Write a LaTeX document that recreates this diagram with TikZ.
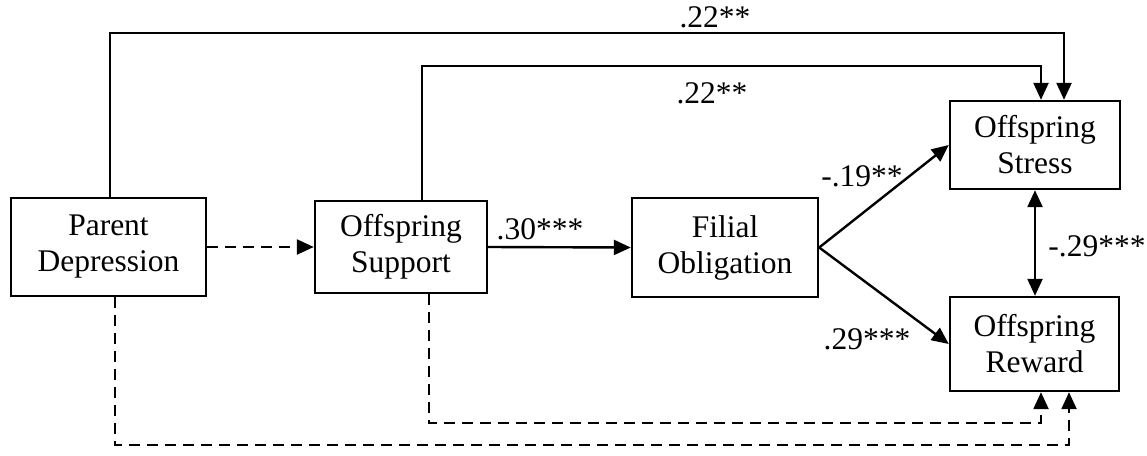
\documentclass[tikz,border=0pt]{standalone}
\usepackage{fontspec}
\setmainfont{Liberation Serif}
\usetikzlibrary{arrows.meta}
\begin{document}
\begin{tikzpicture}[x=1pt,y=-1pt,
  box/.style={draw, line width=2.4pt, inner sep=0pt, align=center, font=\fontsize{31.5}{36}\selectfont},
  lbl/.style={font=\fontsize{31.5}{36}\selectfont, inner sep=0pt},
  arr/.style={line width=2.4pt, -{Triangle[length=17pt,width=15pt]}},
  dsh/.style={arr, dash pattern=on 11pt off 7pt},
  dbl/.style={line width=2.4pt, {Triangle[length=17pt,width=15pt]}-{Triangle[length=17pt,width=15pt]}},
]
\useasboundingbox (0,0) rectangle (1147,455);
% boxes
\node[box, minimum width=195pt, minimum height=98pt] (pd) at (108.5,247) {Parent\\Depression};
\node[box, minimum width=172pt, minimum height=92pt] (os) at (401,247) {Offspring\\Support};
\node[box, minimum width=186pt, minimum height=99pt] (fo) at (725,247.5) {Filial\\Obligation};
\node[box, minimum width=170pt, minimum height=88pt] (st) at (1035,145) {Offspring\\Stress};
\node[box, minimum width=169pt, minimum height=94pt] (rw) at (1034.5,344) {Offspring\\Reward};
% routing points
\coordinate (c1) at (110,33);
\coordinate (c2) at (1064,33);
\coordinate (c3) at (422,66);
\coordinate (c4) at (1041,66);
\coordinate (c5) at (429,423);
\coordinate (c6) at (1041,423);
\coordinate (c7) at (115,445);
\coordinate (c8) at (1069,445);
% connectors
\draw[arr] (pd.north -| c1) |- (c2) -- (c2 |- st.north);
\draw[arr] (os.north -| c3) |- (c4) -- (c4 |- st.north);
\draw[dsh] (pd.east) -- (os.west);
\draw[arr] (os.east) -- (fo.west);
\draw[arr] (fo.east) -- (st.west);
\draw[arr] (fo.east) -- (rw.west);
\draw[dbl] (st.south) -- (st.south |- rw.north);
\draw[dsh] (os.south -| c5) |- (c6) -- (c6 |- rw.south);
\draw[dsh] (pd.south -| c7) |- (c8) -- (c8 |- rw.south);
% labels
\node[lbl] (l1) at (715,17) {.22**};
\node[lbl] (l2) at (712,93) {.22**};
\node[lbl] (l3) at (540,229) {.30***};
\node[lbl] (l4) at (862,176) {-.19**};
\node[lbl] (l5) at (867,339) {.29***};
\node[lbl] (l6) at (1097,246) {-.29***};
\end{tikzpicture}
\end{document}
